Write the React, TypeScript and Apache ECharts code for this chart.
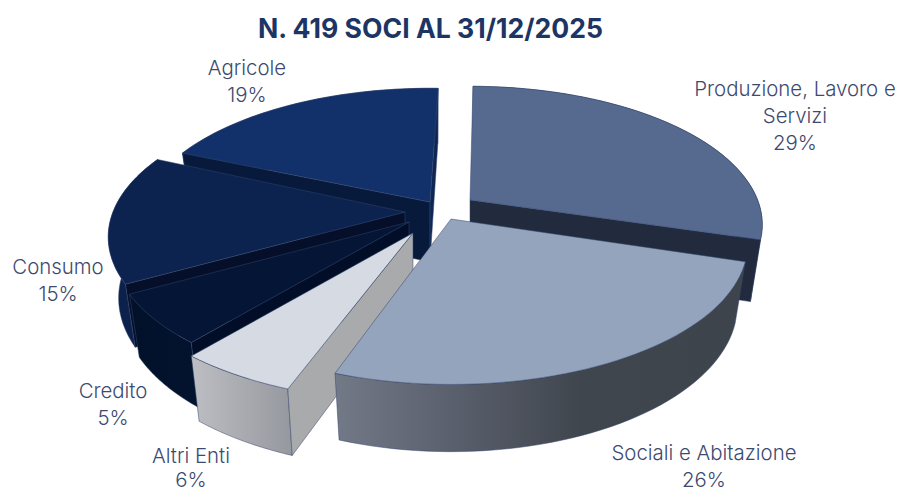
import React, { useEffect, useRef } from "react";
import * as echarts from "echarts";

const titleText = "N. 419 SOCI AL 31/12/2025";
const categories = ["Produzione, Lavoro e\nServizi", "Sociali e Abitazione", "Altri Enti", "Credito", "Consumo", "Agricole"];
const shares = [29, 26, 6, 5, 15, 19];
const paintOrder = [5, 4, 3, 0, 2, 1];

// Layout and style constants
const apexes = [[470, 200], [451, 219], [413, 233], [409, 222], [405, 212], [430, 202]];
const sliceScale = [0.985, 1, 1.02, 1, 1, 0.985];
const startNudge = [-0.3, 1.9, 1.5, -0.5, 2.4, 0.4];
const endNudge = [1, 0.3, -0.6, 2.4, 1.9, 0.9];
const labelCentres = [[795, 88], [704, 452], [191, 455], [113, 390], [58, 266], [247, 67]];
const labelLineHeights = [27, 27, 24, 27, 27, 27];
const topFills = ["#56698f", "#93a4bc", "#d5dae3", "#051536", "#0c2350", "#12316a"];
const startCutFills = ["#222b3d", "#2a3040", "#a9aaac", "#020e28", "#050f2a", "#0d2654"];
const endCutFills = ["#222b3d", "#2a3040", "#a9aaac", "#020e28", "#050f2a", "#081a3c"];
const wallStops: [number, string][][] = [
  [[0, "#1e2b47"], [1, "#1e2b47"]],
  [[0, "#727987"], [0.35, "#555a67"], [0.6, "#40464d"], [1, "#3e444b"]],
  [[0, "#bcbec3"], [1, "#96989f"]],
  [[0, "#021129"], [1, "#03132f"]],
  [[0, "#0b2049"], [1, "#0d2450"]],
  [[0, "#0c2249"], [1, "#0c2249"]],
];
const RX = 292, RY = 136, PERSP = 0.178, DEPTH = 60, SHRINK = 0.965, START = 1;

function project(deg: number, s: number) {
  const a = (deg * Math.PI) / 180;
  const u = Math.sin(a), v = Math.cos(a);
  const w = 1 + PERSP * v;
  return { x: (s * RX * u) / w, y: (-s * RY * v) / w, w };
}
function lower(p: { x: number; y: number; w: number }) {
  return { x: p.x * SHRINK, y: p.y * SHRINK + DEPTH / p.w };
}
function cross(ax: number, ay: number, bx: number, by: number) {
  return ax * by - ay * bx;
}

function renderItem(params: any, api: any) {
  const idx = api.value(1) as number;
  const share = api.value(0) as number;
  const total = shares.reduce((s, n) => s + n, 0);
  const before = shares.slice(0, idx).reduce((s, n) => s + n, 0);
  const a0 = START + startNudge[idx] + (before / total) * 360;
  const a1 = START + endNudge[idx] + ((before + share) / total) * 360;
  const [ax, ay] = apexes[idx];
  const arc: { x: number; y: number; w: number }[] = [];
  const n = 48;
  for (let i = 0; i <= n; i++) arc.push(project(a0 + ((a1 - a0) * i) / n, sliceScale[idx]));
  const upper = arc.map((p) => [ax + p.x, ay + p.y]);
  const bottom = arc.map((p) => {
    const q = lower(p);
    return [ax + q.x, ay + q.y];
  });
  const apexB = [ax, ay + DEPTH];
  const edge = { stroke: "#33456c", lineWidth: 0.5 };
  const mid = upper[n >> 1];
  const children: any[] = [
    {
      type: "polygon",
      shape: { points: [...upper, ...bottom.slice().reverse()] },
      style: {
        fill: new echarts.graphic.LinearGradient(
          0, 0, 1, 0,
          wallStops[idx].map(([offset, color]) => ({ offset, color }))
        ),
        ...edge,
      },
    },
  ];
  for (const k of [0, n]) {
    const side = cross(upper[k][0] - ax, upper[k][1] - ay, mid[0] - ax, mid[1] - ay);
    const ext = cross(upper[k][0] - ax, upper[k][1] - ay, bottom[k][0] - ax, bottom[k][1] - ay);
    if (side * ext < 0) {
      children.push({
        type: "polygon",
        shape: { points: [[ax, ay], upper[k], bottom[k], apexB] },
        style: { fill: k === 0 ? endCutFills[idx] : startCutFills[idx], ...edge },
      });
    }
  }
  children.push({
    type: "polygon",
    shape: { points: [[ax, ay], ...upper] },
    style: { fill: topFills[idx], ...edge },
  });
  return { type: "group", children };
}

function labelItem(params: any, api: any) {
  const idx = api.value(1) as number;
  const [x, y] = labelCentres[idx];
  const lineHeight = labelLineHeights[idx];
  return {
    type: "text",
    style: {
      text: `${categories[idx]}\n${api.value(0)}%`,
      x,
      y,
      textAlign: "center",
      verticalAlign: "top",
      fill: "#3d4a70",
      font: "300 20.4px Inter",
      lineHeight,
    },
    y: -lineHeight / 2,
  };
}

export default function App() {
  const ref = useRef<HTMLDivElement>(null);
  useEffect(() => {
    document.body.style.margin = "0";
    const chart = echarts.init(ref.current!, null, { renderer: "svg" });
    chart.setOption({
      animation: false,
      backgroundColor: "#ffffff",
      title: {
        text: titleText,
        left: 425.5,
        top: 9,
        textAlign: "center",
        textStyle: { color: "#1c3564", fontFamily: "Inter", fontWeight: "bold", fontSize: 26.6 },
      },
      series: [
        {
          type: "custom",
          coordinateSystem: "none",
          renderItem,
          clip: false,
          silent: true,
          data: paintOrder.map((i) => [shares[i], i]),
        },
        {
          type: "custom",
          coordinateSystem: "none",
          renderItem: labelItem,
          clip: false,
          silent: true,
          z: 5,
          data: shares.map((s, i) => [s, i]),
        },
      ],
    });
    return () => chart.dispose();
  }, []);
  return <div ref={ref} style={{ width: 900, height: 491 }} />;
}
